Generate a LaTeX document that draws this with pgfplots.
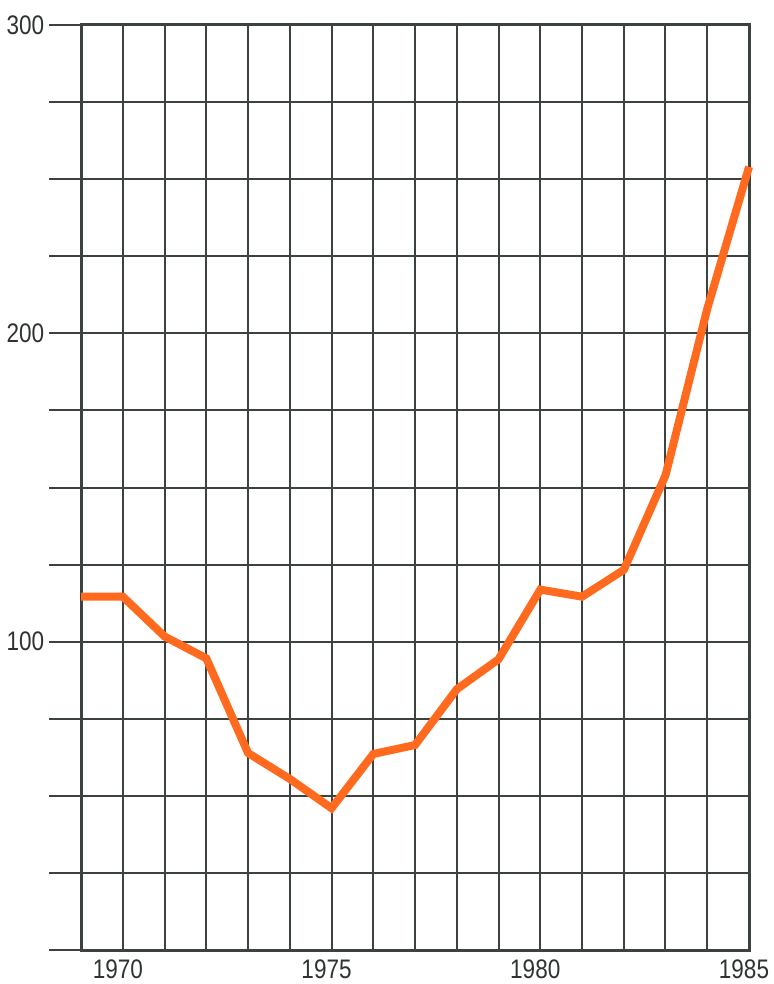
\documentclass[border=0pt]{standalone}
\usepackage{fontspec}
\setmainfont{Liberation Sans}[FakeStretch=0.84]
\usepackage{pgfplots}
\pgfplotsset{compat=1.18}
\definecolor{gridc}{HTML}{3C423E}
\definecolor{labc}{HTML}{2E332F}
\definecolor{lineor}{HTML}{FF6A1F}
\begin{document}
\begin{tikzpicture}
\begin{axis}[
  name=ax,
  scale only axis,
  width=335bp, height=464bp,
  xmin=1969, xmax=1985, ymin=0, ymax=300,
  xtick={1969,...,1985},
  xticklabels={,1970,,,,,1975,,,,,1980,,,,,1985},
  ytick={0,25,...,300},
  yticklabels={,,,,100,,,,200,,,,300},
  /pgf/number format/assume math mode=true,
  tick label style={font=\fontsize{13.5}{15}\selectfont, text=labc},
  xtick pos=bottom, ytick pos=left,
  tick align=outside,
  major tick length=16bp,
  xtick style={draw=none},
  ytick style={draw=gridc, line width=1bp},
  xticklabel style={inner sep=0pt, yshift=11.5bp, xshift=-2.5bp},
  yticklabel style={xshift=1bp},
  grid=major,
  major grid style={draw=gridc, line width=1bp},
  axis line style={draw=gridc, line width=1.5bp},
  clip=false,
]
\addplot[color=lineor, line width=4bp, mark=none] coordinates {
(1969,114.6) (1970,114.6) (1971,101.7) (1972,94.6) (1973,63.9)
(1974,55.5) (1975,46) (1976,63.6) (1977,66.5) (1978,84.6)
(1979,94.3) (1980,116.9) (1981,114.6) (1982,123.3) (1983,154)
(1984,208) (1985,254)
};
\end{axis}
\path (ax.south west) ++(-40bp,-17bp) coordinate (bl);
\path (ax.north east) ++(12.5bp,12.5bp) coordinate (tr);
\end{tikzpicture}
\end{document}
